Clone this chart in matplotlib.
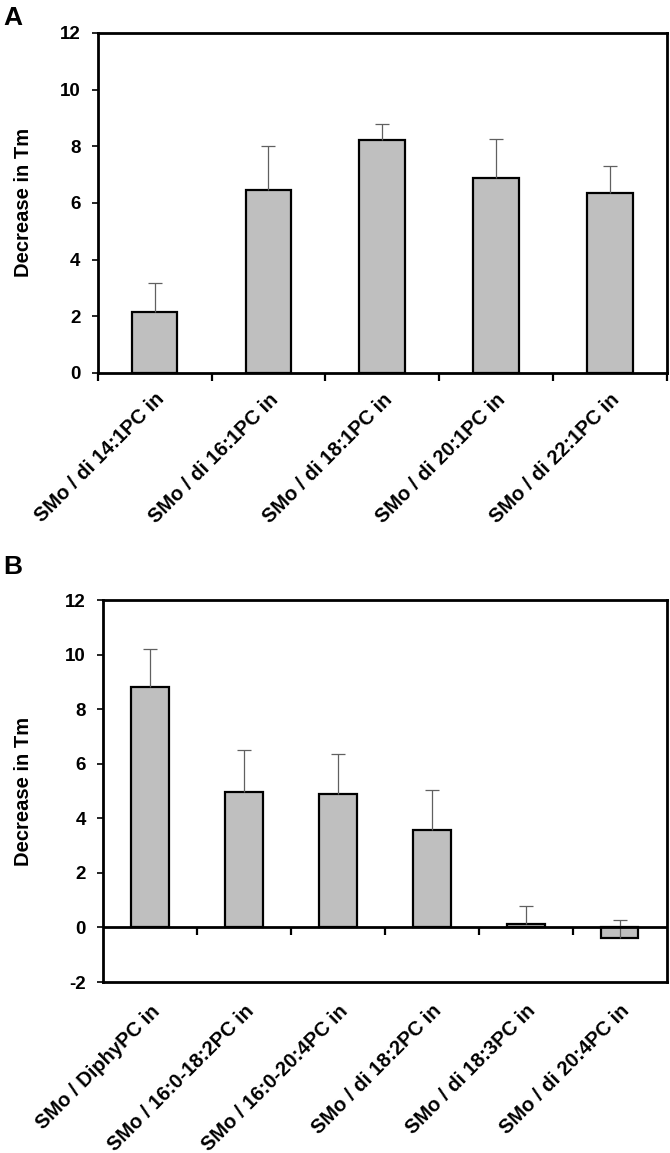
import numpy as np
import matplotlib
matplotlib.use("Agg")
import matplotlib.pyplot as plt

plt.rcParams['font.family'] = ['Liberation Sans', 'DejaVu Sans']
plt.rcParams['font.weight'] = 'bold'
plt.rcParams['axes.unicode_minus'] = False

# panel A data
labels_a = ['SMo / di 14:1PC in', 'SMo / di 16:1PC in', 'SMo / di 18:1PC in',
            'SMo / di 20:1PC in', 'SMo / di 22:1PC in']
values_a = [2.14, 6.47, 8.22, 6.87, 6.35]
errors_a = [1.03, 1.53, 0.58, 1.40, 0.95]

# panel B data
labels_b = ['SMo / DiphyPC in', 'SMo / 16:0-18:2PC in', 'SMo / 16:0-20:4PC in',
            'SMo / di 18:2PC in', 'SMo / di 18:3PC in', 'SMo / di 20:4PC in']
values_b = [8.81, 4.97, 4.90, 3.57, 0.11, -0.40]
errors_b = [1.41, 1.54, 1.47, 1.47, 0.67, 0.69]

BAR_COLOR = '#bfbfbf'
ERR_COLOR = '#606060'
FS_TICK = 13.5
FS_XLAB = 14.5
FS_YLAB = 14.5


def draw_panel(ax, labels, values, errors, ymin, label_x):
    x = np.arange(len(values))
    ax.bar(x, values, width=0.4, color=BAR_COLOR, edgecolor='black',
           linewidth=1.6, zorder=2)
    eb = ax.errorbar(x, values, yerr=[np.zeros(len(errors)), errors], fmt='none',
                     ecolor=ERR_COLOR, elinewidth=0.9, capsize=5, capthick=0.9,
                     zorder=3)
    # only upward error bars in the original
    eb[1][0].set_visible(False)

    ax.set_xlim(-0.5, len(values) - 0.5)
    ax.set_ylim(ymin, 12)
    ax.set_yticks(np.arange(ymin, 13, 2))
    ax.set_xticks(x)
    ax.set_xticklabels(labels, rotation=45, ha='right', rotation_mode='anchor',
                       fontsize=FS_XLAB, fontweight='bold')
    ax.tick_params(axis='x', which='major', length=0, pad=12)
    ax.tick_params(axis='y', direction='out', length=4.5, width=1.2,
                   labelsize=FS_TICK, pad=8)
    for lab in ax.get_yticklabels():
        lab.set_fontweight('bold')
    for s in ax.spines.values():
        s.set_linewidth(2)
    ax.set_ylabel('Decrease in Tm', fontsize=FS_YLAB, fontweight='bold')
    ax.yaxis.set_label_coords(label_x, 0.5)


fig = plt.figure(figsize=(6.7, 11.53), dpi=100)

ax_a = fig.add_axes([0.146, 0.6765, 0.849, 0.295])
draw_panel(ax_a, labels_a, values_a, errors_a, 0, -0.114)
ax_a.set_xticks(np.arange(-0.5, len(values_a)), minor=True)
ax_a.tick_params(axis='x', which='minor', direction='out', length=6, width=1.6)

ax_b = fig.add_axes([0.154, 0.1483, 0.841, 0.3313])
draw_panel(ax_b, labels_b, values_b, errors_b, -2, -0.124)
ax_b.tick_params(axis='x', pad=14)
ax_b.axhline(0, color='black', linewidth=2, zorder=4)
bounds_b = np.arange(0.5, len(values_b) - 1)
ax_b.plot(bounds_b, np.zeros(len(bounds_b)), linestyle='none', marker=3,
          markersize=6, markeredgewidth=1.6, color='black', zorder=4,
          clip_on=False)

fig.text(0.005, 0.995, 'A', fontsize=19, fontweight='bold', va='top', ha='left')
fig.text(0.005, 0.519, 'B', fontsize=19, fontweight='bold', va='top', ha='left')

fig.savefig('out.png', dpi=100)
